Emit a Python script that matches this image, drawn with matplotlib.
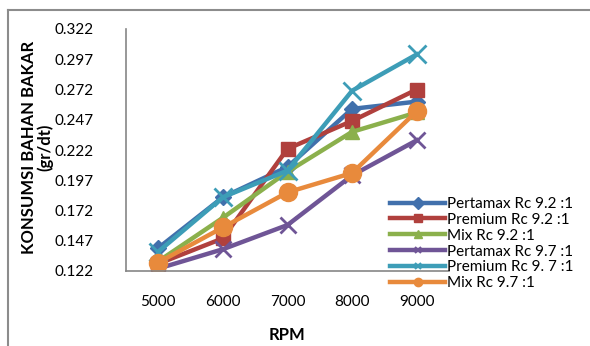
import matplotlib
matplotlib.use("Agg")
import matplotlib.pyplot as plt
from matplotlib.lines import Line2D

rpm = ["5000", "6000", "7000", "8000", "9000"]
series_names = ["Pertamax Rc 9.2 :1", "Premium Rc 9.2 :1", "Mix Rc 9.2 :1",
                "Pertamax Rc 9.7 :1", "Premium Rc 9. 7 :1", "Mix Rc 9.7 :1"]
pertamax_92 = [0.141, 0.183, 0.208, 0.256, 0.262]
premium_92 = [0.128, 0.149, 0.223, 0.246, 0.272]
mix_92 = [0.130, 0.166, 0.204, 0.237, 0.253]
pertamax_97 = [0.124, 0.140, 0.160, 0.201, 0.230]
premium_97 = [0.138, 0.183, 0.205, 0.271, 0.301]
mix_97 = [0.129, 0.158, 0.187, 0.203, 0.254]
yticks = [0.122, 0.147, 0.172, 0.197, 0.222, 0.247, 0.272, 0.297, 0.322]

values = [pertamax_92, premium_92, mix_92, pertamax_97, premium_97, mix_97]
colors = ["#4170AC", "#B0403D", "#8BB04C", "#6F5596", "#3D9DB7", "#E88A3C"]
markers = ["D", "s", "^", "x", "x", "o"]
msizes = [8, 10, 10, 11, 13, 13]

plt.rcParams['font.family'] = ['Lato', 'DejaVu Sans']

fig = plt.figure(figsize=(5.9, 3.46), dpi=100)
ax = fig.add_axes([126/590, 1-271/346, (449-126)/590, (271-29)/346])

x = list(range(len(rpm)))
handles = []
for name, vals, c, m, ms in zip(series_names, values, colors, markers, msizes):
    mew = 2.0 if m == "x" else 1
    ax.plot(x, vals, color=c, lw=3.2, marker=m, markersize=ms,
            markeredgewidth=mew, markerfacecolor=c, markeredgecolor=c)
    if m == "x":
        hm = dict(marker=m, markersize=5, markeredgewidth=1.5)
    else:
        hm = dict(marker=m, markersize=6)
    handles.append(Line2D([], [], color=c, lw=3.2, markerfacecolor=c,
                          markeredgecolor=c, **hm))

ax.set_xlim(-0.5, 4.5)
ax.set_ylim(0.122, 0.322)
ax.set_xticks(x)
ax.set_xticklabels(rpm)
ax.set_yticks(yticks)
ax.set_yticklabels([f"{v:.3f}" for v in yticks])
ax.tick_params(axis='both', length=0, labelsize=11, colors='black')
ax.tick_params(axis='x', pad=17)
ax.tick_params(axis='y', pad=23)
for s in ["top", "right"]:
    ax.spines[s].set_visible(False)
for s in ["left", "bottom"]:
    ax.spines[s].set_color("#868686")
    ax.spines[s].set_linewidth(1.2)

ax.set_xlabel("RPM", fontsize=12, fontweight='bold', labelpad=13)
fig.text(37/590, 1-147/346, "KONSUMSI BAHAN BAKAR\n(gr/dt)", rotation=90,
         ha='center', va='center', fontsize=12, fontweight='bold',
         multialignment='center', linespacing=0.95)

leg = fig.legend(handles, series_names, loc='upper left',
                 bbox_to_anchor=(390/590, 1-197/346),
                 bbox_transform=fig.transFigure, frameon=False,
                 fontsize=11, handlelength=3.6, handletextpad=0.15,
                 labelspacing=0.12, borderpad=0, borderaxespad=0)

# outer chart border
fig.add_artist(Line2D([8/590, 1], [1-10/346, 1-10/346], color="#8C8C8C", lw=1.5))
fig.add_artist(Line2D([8/590, 8/590], [0, 1-10/346], color="#8C8C8C", lw=1.5))

fig.savefig("out.png", dpi=100)
